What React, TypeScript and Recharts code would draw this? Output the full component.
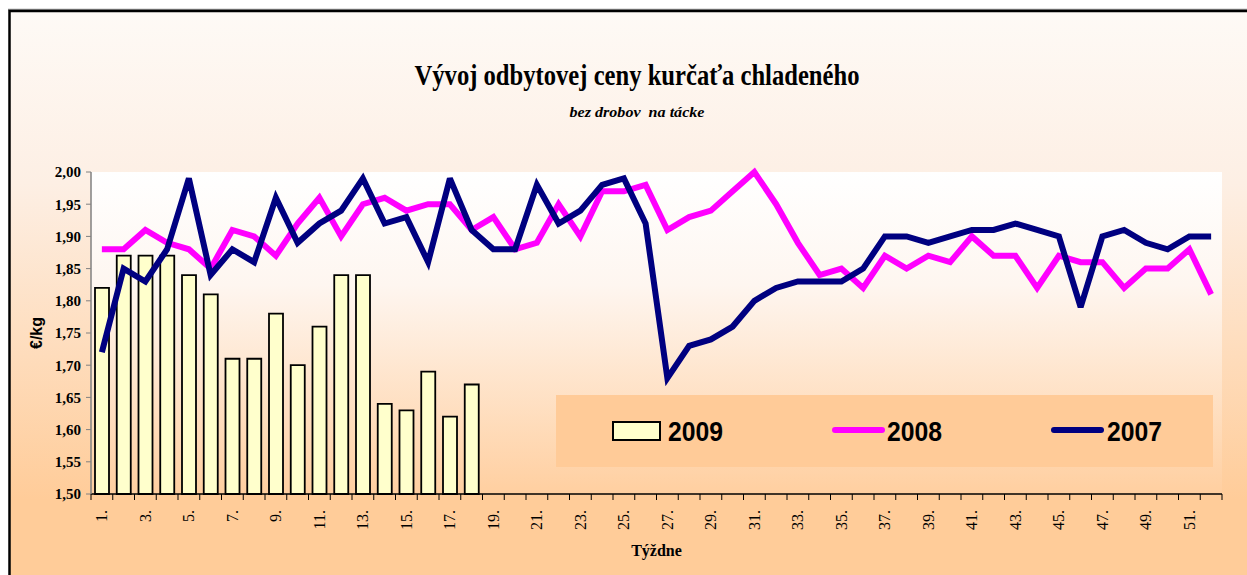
import { Bar, CartesianGrid, ComposedChart, Legend, Line, XAxis, YAxis } from 'recharts'

const weeks = [
  '1.', '2.', '3.', '4.', '5.', '6.', '7.', '8.', '9.', '10.', '11.', '12.', '13.',
  '14.', '15.', '16.', '17.', '18.', '19.', '20.', '21.', '22.', '23.', '24.', '25.', '26.',
  '27.', '28.', '29.', '30.', '31.', '32.', '33.', '34.', '35.', '36.', '37.', '38.', '39.',
  '40.', '41.', '42.', '43.', '44.', '45.', '46.', '47.', '48.', '49.', '50.', '51.', '52.',
]

// 2009 only up to week 18
const price2009 = [1.82, 1.87, 1.87, 1.87, 1.84, 1.81, 1.71, 1.71, 1.78, 1.7, 1.76, 1.84, 1.84, 1.64, 1.63, 1.69, 1.62, 1.67]

const price2008 = [
  1.88, 1.88, 1.91, 1.89, 1.88, 1.85, 1.91, 1.9, 1.87, 1.92,
  1.96, 1.9, 1.95, 1.96, 1.94, 1.95, 1.95, 1.91, 1.93, 1.88,
  1.89, 1.95, 1.9, 1.97, 1.97, 1.98, 1.91, 1.93, 1.94, 1.97,
  2.0, 1.95, 1.89, 1.84, 1.85, 1.82, 1.87, 1.85, 1.87, 1.86,
  1.9, 1.87, 1.87, 1.82, 1.87, 1.86, 1.86, 1.82, 1.85, 1.85,
  1.88, 1.81,
]

const price2007 = [
  1.72, 1.85, 1.83, 1.88, 1.99, 1.84, 1.88, 1.86, 1.96, 1.89,
  1.92, 1.94, 1.99, 1.92, 1.93, 1.86, 1.99, 1.91, 1.88, 1.88,
  1.98, 1.92, 1.94, 1.98, 1.99, 1.92, 1.68, 1.73, 1.74, 1.76,
  1.8, 1.82, 1.83, 1.83, 1.83, 1.85, 1.9, 1.9, 1.89, 1.9,
  1.91, 1.91, 1.92, 1.91, 1.9, 1.79, 1.9, 1.91, 1.89, 1.88,
  1.9, 1.9,
]

const yTicks = [1.5, 1.55, 1.6, 1.65, 1.7, 1.75, 1.8, 1.85, 1.9, 1.95, 2.0]

const data = weeks.map((week, i) => ({
  week,
  y2009: price2009[i] ?? null,
  y2008: price2008[i],
  y2007: price2007[i],
}))

const W = 1247
const H = 575
const PLOT_LEFT = 91
const PLOT_RIGHT = 1222
const BAND = (PLOT_RIGHT - PLOT_LEFT) / weeks.length

const SERIF = '"Liberation Serif", "Times New Roman", serif'
const SANS = '"Liberation Sans", Arial, sans-serif'

function WeekTick(props: any) {
  const { x, y, payload } = props
  const i = payload.index
  const ty = y + 16
  return (
    <g>
      <line x1={x - BAND / 2} x2={x - BAND / 2} y1={y} y2={y + 6} stroke="#000" />
      {i === weeks.length - 1 && <line x1={x + BAND / 2} x2={x + BAND / 2} y1={y} y2={y + 6} stroke="#000" />}
      {i % 2 === 0 && (
        <text
          x={x}
          y={ty}
          dy="0.35em"
          transform={`rotate(-90 ${x} ${ty})`}
          textAnchor="end"
          fontFamily={SERIF}
          fontSize={16}
          fill="#000"
        >
          {payload.value}
        </text>
      )}
    </g>
  )
}

function YTitle(props: any) {
  const vb = props.viewBox || { x: 0, y: 172, width: 91, height: 322 }
  const cx = vb.x + 36
  const cy = vb.y + vb.height / 2
  return (
    <text x={cx} y={cy} transform={`rotate(-90 ${cx} ${cy})`} textAnchor="middle" dy="0.35em" fontFamily={SANS} fontWeight="bold" fontSize={16} fill="#000">
      €/kg
    </text>
  )
}

function XTitle(props: any) {
  const vb = props.viewBox || { x: 91, y: 494, width: 1131, height: 81 }
  return (
    <text x={vb.x + vb.width / 2} y={vb.y + 62} textAnchor="middle" fontFamily={SERIF} fontWeight="bold" fontSize={16} fill="#000">
      Týždne
    </text>
  )
}

function LegendBox() {
  const txt = { fontFamily: SANS, fontWeight: 'bold' as const, fontSize: 28, fill: '#000' }
  return (
    <svg width={657} height={72} style={{ display: 'block' }}>
      <rect width={657} height={72} fill="#FFCB98" />
      <rect x={57} y={27} width={47} height={18} fill="#FFFFCC" stroke="#000" strokeWidth={2} />
      <text x={112} y={46} textLength={55} lengthAdjust="spacingAndGlyphs" {...txt}>2009</text>
      <line x1={279} x2={326} y1={35} y2={35} stroke="#FF00FF" strokeWidth={6} strokeLinecap="round" />
      <text x={331} y={46} textLength={55} lengthAdjust="spacingAndGlyphs" {...txt}>2008</text>
      <line x1={498} x2={545} y1={35} y2={35} stroke="#000080" strokeWidth={6} strokeLinecap="round" />
      <text x={551} y={46} textLength={55} lengthAdjust="spacingAndGlyphs" {...txt}>2007</text>
    </svg>
  )
}

export default function App() {
  return (
    <div style={{ position: 'absolute', left: 0, top: 0, width: W, height: H, overflow: 'hidden', background: '#fff' }}>
      <svg width={W} height={H} style={{ position: 'absolute', left: 0, top: 0 }}>
        <defs>
          <linearGradient id="chartBg" x1="0" y1="0" x2="0" y2="1">
            <stop offset="0" stopColor="#FEFAF6" />
            <stop offset="0.3" stopColor="#FDEFE4" />
            <stop offset="0.85" stopColor="#FFCC99" />
            <stop offset="1" stopColor="#FFCC99" />
          </linearGradient>
          <linearGradient id="plotBg" x1="0" y1="0" x2="0" y2="1">
            <stop offset="0" stopColor="#FFFFFF" />
            <stop offset="0.35" stopColor="#FEF6F0" />
            <stop offset="1" stopColor="#FFCFA0" />
          </linearGradient>
        </defs>
        <line x1={8} x2={W} y1={9.5} y2={9.5} stroke="#909090" strokeWidth={1.5} />
        <rect x={9.5} y={11} width={W} height={H} fill="url(#chartBg)" stroke="#000" strokeWidth={2.5} />
        <text x={637} y={85} textAnchor="middle" fontFamily={SERIF} fontWeight="bold" fontSize={29} textLength={445} lengthAdjust="spacingAndGlyphs" fill="#000">
          Vývoj odbytovej ceny kurčaťa chladeného
        </text>
        <text x={637} y={117} textAnchor="middle" fontFamily={SERIF} fontWeight="bold" fontStyle="italic" fontSize={15} textLength={135} lengthAdjust="spacingAndGlyphs" fill="#000">
          bez drobov{'\u00a0 '}na tácke
        </text>
      </svg>
      <div style={{ position: 'absolute', left: 0, top: 0 }}>
        <ComposedChart width={W} height={H} data={data} margin={{ top: 172, right: W - PLOT_RIGHT, bottom: 0, left: 0 }}>
          <CartesianGrid horizontal={false} vertical={false} fill="url(#plotBg)" />
          <XAxis
            dataKey="week"
            interval={0}
            height={81}
            tickLine={false}
            tickSize={0}
            tickMargin={0}
            axisLine={{ stroke: '#000', strokeWidth: 1.5 }}
            tick={(p: any) => <WeekTick {...p} />}
            label={{ content: XTitle }}
          />
          <YAxis
            type="number"
            domain={[1.5, 2]}
            ticks={yTicks}
            width={PLOT_LEFT}
            tickSize={5}
            tickMargin={5}
            axisLine={{ stroke: '#808080', strokeWidth: 1.5 }}
            tickLine={{ stroke: '#808080' }}
            tickFormatter={(v: number) => v.toFixed(2).replace('.', ',')}
            tick={{ fontFamily: SERIF, fontWeight: 'bold', fontSize: 15, fill: '#000' }}
            label={{ content: YTitle }}
          />
          <Bar dataKey="y2009" name="2009" fill="#FFFFCC" stroke="#000" strokeWidth={1.8} barSize={14} isAnimationActive={false} />
          <Line dataKey="y2008" name="2008" stroke="#FF00FF" strokeWidth={6} dot={false} strokeLinejoin="miter" strokeMiterlimit={3} isAnimationActive={false} />
          <Line dataKey="y2007" name="2007" stroke="#000080" strokeWidth={6} dot={false} strokeLinejoin="miter" strokeMiterlimit={3} isAnimationActive={false} />
          <Legend
            layout="horizontal"
            align="center"
            verticalAlign="middle"
            content={() => <LegendBox />}
            wrapperStyle={{ left: 556, top: 395, width: 657, height: 72, margin: 0, padding: 0 }}
          />
        </ComposedChart>
      </div>
    </div>
  )
}
